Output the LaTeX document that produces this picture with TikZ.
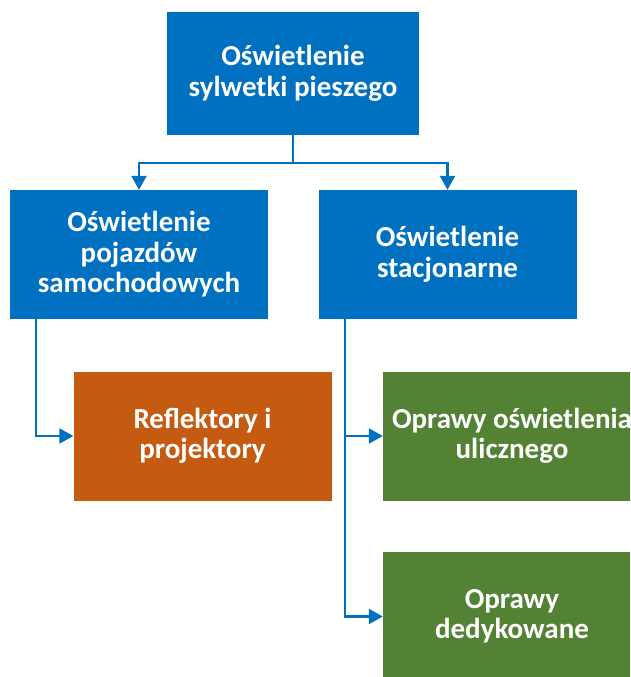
\documentclass[tikz,border=0pt]{standalone}
\usepackage{fontspec}
\setmainfont{Carlito}
\usetikzlibrary{arrows.meta}
\definecolor{boxblue}{HTML}{0070C0}
\definecolor{boxorange}{HTML}{C55A11}
\definecolor{boxgreen}{HTML}{548235}

\begin{document}
\begin{tikzpicture}[x=1pt, y=-1pt,
    box/.style={fill=#1, text=white, inner sep=0pt, align=center,
        minimum width=258pt, minimum height=129pt,
        font=\bfseries\fontsize{29}{30.5}\selectfont},
    link/.style={draw=boxblue, line width=2.2pt,
        -{Triangle[length=14pt, width=15pt]}}]
    \clip (0,0) rectangle (630,677);
    \fill[white] (0,0) rectangle (630,677);
    % boxes
    \node [box=boxblue, minimum width=252pt, minimum height=123pt] (silhouette) at (293,73.5) {Oświetlenie\\sylwetki pieszego};
    \node [box=boxblue] (vehicle) at (139,254.5) {Oświetlenie\\pojazdów\\samochodowych};
    \node [box=boxblue] (fixed) at (447.5,254.5) {Oświetlenie\\stacjonarne};
    \node [box=boxorange] (headlamps) at (202.5,436) {Reflektory i\\projektory};
    \node [box=boxgreen] (street) at (512,436) {Oprawy oświetlenia\\ulicznego};
    \node [box=boxgreen] (dedicated) at (512,616.5) {Oprawy\\dedykowane};
    % connectors
    \draw [link] (silhouette.south) -- ++(0,28) -| (vehicle.north);
    \draw [link] (silhouette.south) -- ++(0,28) -| (fixed.north);
    \draw [link] ([xshift=-103pt]vehicle.south) |- (headlamps.west);
    \draw [link] ([xshift=-102.5pt]fixed.south) |- (street.west);
    \draw [link] ([xshift=-102.5pt]fixed.south) |- (dedicated.west);
\end{tikzpicture}
\end{document}
